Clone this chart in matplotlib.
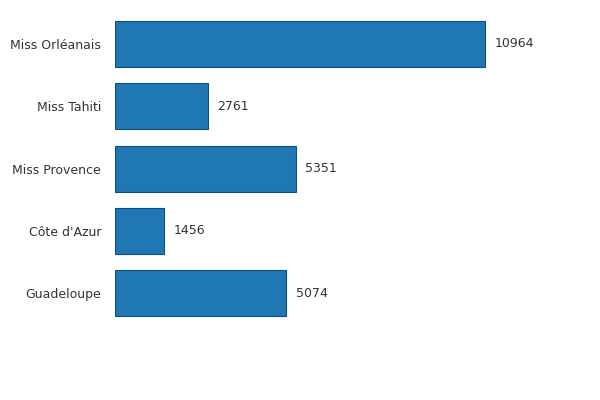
import matplotlib
matplotlib.use("Agg")
import matplotlib.pyplot as plt

categories = ["Miss Orléanais", "Miss Tahiti", "Miss Provence", "Côte d'Azur", "Guadeloupe"]
values = [10964, 2761, 5351, 1456, 5074]

fig = plt.figure(figsize=(6, 4), dpi=100)
ax = fig.add_axes([115 / 600, 0.189, 470 / 600, 0.779])

pos = list(range(len(categories)))
ax.barh(pos, values, height=0.74, color="#1f77b4", edgecolor="#0d4f80", linewidth=0.8)
for p, v in zip(pos, values):
    ax.text(v + 280, p, str(v), va="center", ha="left", fontsize=9, color="#333333")

ax.set_xlim(0, 10964 * 470 / 370)
ax.set_ylim(len(categories) - 0.5, -0.5)
ax.set_yticks(pos)
ax.set_yticklabels(categories, fontsize=9, color="#333333")
ax.tick_params(axis="y", length=0, pad=10)
ax.set_xticks([])
for s in ax.spines.values():
    s.set_visible(False)

fig.savefig("out.png", dpi=100)
